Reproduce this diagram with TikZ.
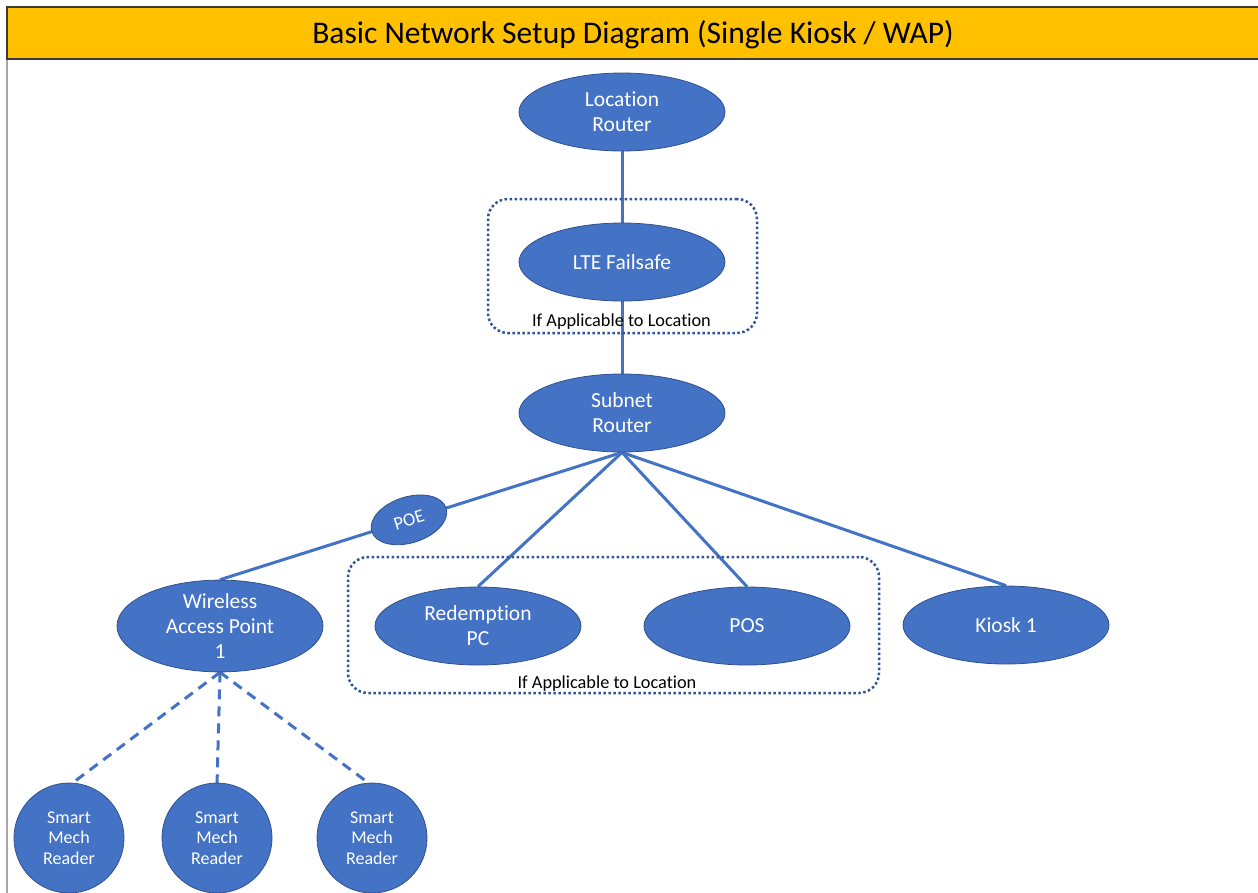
\documentclass[tikz,border=0pt]{standalone}
\usepackage{fontspec}
\setmainfont{Carlito}[Ligatures=NoCommon]
\usetikzlibrary{shapes.geometric,backgrounds}
\definecolor{nodeblue}{HTML}{4472C4}
\definecolor{edgeblue}{HTML}{2F528F}
\definecolor{dotblue}{HTML}{2F5597}
\definecolor{titlegold}{HTML}{FFC000}
\definecolor{titleborder}{HTML}{3A3A3A}
\definecolor{frameline}{HTML}{A6A6A6}
\begin{document}
\begin{tikzpicture}[x=1pt,y=-1pt,
  dev/.style={ellipse, fill=nodeblue, draw=edgeblue, line width=0.8pt,
    minimum width=206pt, minimum height=78pt, inner sep=0pt, text=white,
    align=center, font=\fontsize{21.5}{25}\selectfont},
  reader/.style={circle, fill=nodeblue, draw=edgeblue, line width=0.8pt,
    minimum size=110pt, inner sep=0pt, text=white, align=center,
    font=\fontsize{18}{20.5}\selectfont},
  poenode/.style={ellipse, fill=nodeblue, draw=edgeblue, line width=0.8pt,
    minimum width=78pt, minimum height=46pt, inner sep=0pt, text=white,
    font=\fontsize{18.5}{20}\selectfont},
  link/.style={draw=nodeblue, line width=3pt},
  wlink/.style={draw=nodeblue, line width=3pt, dash pattern=on 10pt off 7pt},
  optbox/.style={draw=dotblue, line width=2.5pt, dash pattern=on 2.5pt off 2.5pt,
    rounded corners=20pt, inner sep=0pt},
  note/.style={font=\fontsize{18.3}{21}\selectfont, text=black, inner sep=0pt},
]
\useasboundingbox (0,0) rectangle (1258,892);
\begin{scope}[on background layer]
\fill[white] (0,0) rectangle (1258,892);
\end{scope}

% title bar
\draw[fill=titlegold, draw=titleborder, line width=1.5pt] (7,7) rectangle (1275,59);
\node[font=\fontsize{31.5}{36}\selectfont, anchor=base, inner sep=0pt] (title) at (633,43)
  {Basic Network Setup Diagram (Single Kiosk / WAP)};
\draw[frameline, line width=1.5pt] (7,59.75) -- (7,900);

% optional boxes
\node[optbox, minimum width=269pt, minimum height=134pt] (opt1) at (622.5,266) {};
\node[optbox, minimum width=531pt, minimum height=136pt] (opt2) at (613.5,625) {};

% devices
\node[dev] (loc) at (622,112) {Location\\Router};
\node[dev] (lte) at (622,262) {LTE Failsafe};
\node[dev] (sub) at (622,413) {Subnet\\Router};
\node[dev] (wap) at (220,626) {Wireless\\Access Point\\1};
\node[dev] (red) at (478,626) {Redemption\\PC};
\node[dev] (pos) at (747,626) {POS};
\node[dev] (kiosk) at (1006,625) {Kiosk 1};

\node[reader] (r1) at (69,838) {Smart\\Mech\\Reader};
\node[reader] (r2) at (217,838) {Smart\\Mech\\Reader};
\node[reader] (r3) at (372,838) {Smart\\Mech\\Reader};

% notes
\node[note, anchor=base] (n1) at (621.5,326) {If Applicable to Location};
\node[note, anchor=base] (n2) at (607,688) {If Applicable to Location};

% connectors
\begin{scope}[on background layer]
\draw[link] (loc.south) -- (lte.north);
\draw[link] (lte.south) -- (sub.north);
\draw[link] (sub.south) -- (wap.north)
  node[poenode, pos=0.53, sloped] (poe) {POE};
\draw[link] (sub.south) -- (red.north);
\draw[link] (sub.south) -- (pos.north);
\draw[link] (sub.south) -- (kiosk.north);
\draw[wlink] (wap.south) -- ([yshift=-3pt]r1.north);
\draw[wlink] (wap.south) -- ([yshift=-3pt]r2.north);
\draw[wlink] (wap.south) -- ([yshift=-3pt]r3.north);
\end{scope}
\end{tikzpicture}
\end{document}
